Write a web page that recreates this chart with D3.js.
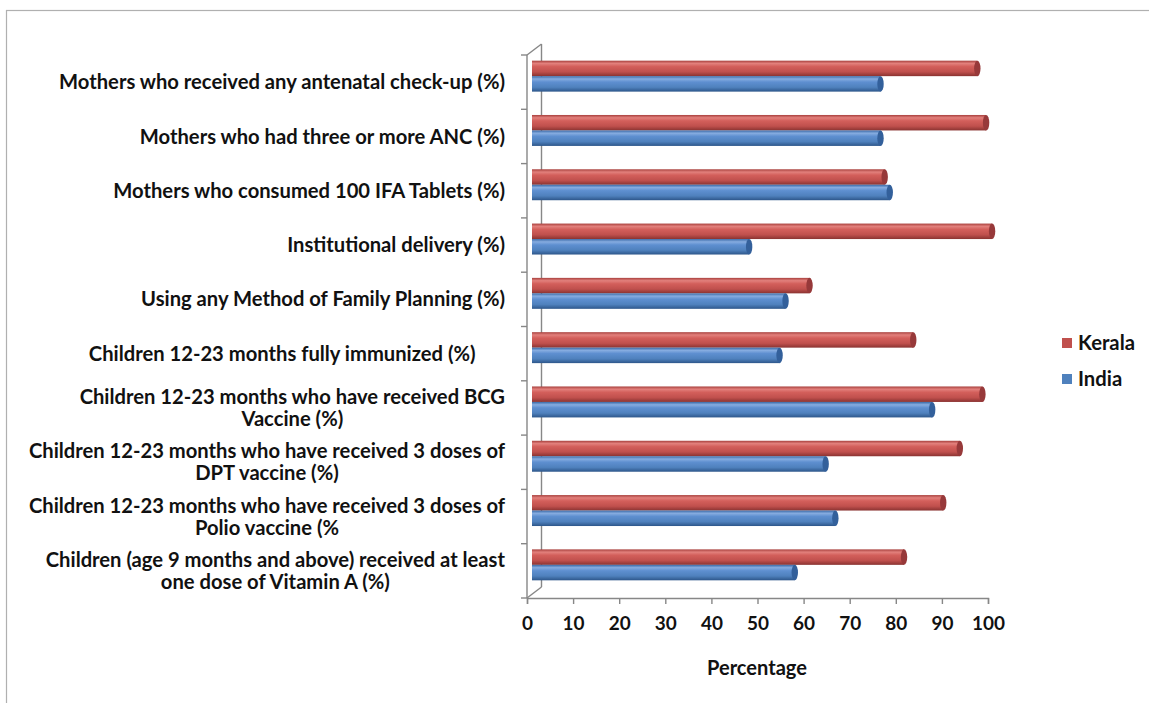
<!DOCTYPE html>
<html><head><meta charset="utf-8">
<script src="https://cdn.jsdelivr.net/npm/d3@7"></script>
<style>
body{margin:0;background:#fff}
text{font-family:Lato,"Open Sans",sans-serif;font-weight:700;fill:#111}
</style>
</head><body>
<svg id="c" width="1149" height="703"></svg>
<script>
// ---- data ----
const categories = [
  ["Mothers who received any antenatal check-up (%)"],
  ["Mothers who had three or more ANC (%)"],
  ["Mothers who consumed 100 IFA Tablets (%)"],
  ["Institutional delivery (%)"],
  ["Using any Method of Family Planning (%)"],
  ["Children 12-23 months fully immunized (%)\u00a0\u00a0\u00a0\u00a0\u00a0\u00a0"],
  ["Children 12-23 months who have received BCG", "Vaccine (%)"],
  ["Children 12-23 months who have received 3 doses of", "DPT vaccine (%)"],
  ["Children 12-23 months who have received 3 doses of", "Polio vaccine (%"],
  ["Children (age 9 months and above) received at least", "one dose of Vitamin A (%)"]
];
const kerala = [96.6, 98.5, 76.5, 99.8, 60.2, 82.7, 97.7, 92.8, 89.2, 80.7];
const india  = [75.6, 75.6, 77.6, 47.1, 55.0, 53.7, 86.8, 63.7, 65.8, 57.0];
const seriesNames = ["Kerala", "India"];
const xTicks = [0, 10, 20, 30, 40, 50, 60, 70, 80, 90, 100];
const axisTitle = "Percentage";

// ---- layout ----
const W = 1149, H = 703;
const svg = d3.select("#c");
const keys = categories.map((c, i) => "c" + i);
svg.append("rect").attr("x", 6.5).attr("y", 10.5).attr("width", W + 20).attr("height", H + 20)
  .attr("fill", "#fff").attr("stroke", "#b0b0b0").attr("stroke-width", 1.2);

function fitSize(str, target, base) {
  const t = svg.append("text").style("font-size", base + "px").text(str);
  const w = t.node().getComputedTextLength();
  t.remove();
  return base * target / w;
}

const x = d3.scaleLinear().domain([0, 100]).range([527, 988]);
const y = d3.scaleBand().domain(keys).range([55, 598]).paddingInner(0.43).paddingOuter(0.215);
const y1 = d3.scaleBand().domain(seriesNames).range([0, y.bandwidth()]);
const depth = {dx: 14.5, dy: -11};
const mid = {dx: 5, dy: -6};
const axisColor = "#878787";

const colors = {
  Kerala: {stops: ["#a8403d", "#e2807c", "#d35f5b", "#c0504d", "#8a3331"], cap: "#97393a"},
  India:  {stops: ["#3a69a6", "#86ace0", "#5e8fd0", "#4f81bd", "#2d568a"], cap: "#33609b"}
};
const defs = svg.append("defs");
seriesNames.forEach(s => {
  const g = defs.append("linearGradient").attr("id", "g" + s).attr("x1", 0).attr("y1", 0).attr("x2", 0).attr("y2", 1);
  [0, 0.18, 0.38, 0.72, 1].forEach((o, i) => g.append("stop").attr("offset", o).attr("stop-color", colors[s].stops[i]));
});

// ---- 3D axis frame ----
const x0 = x(0), yTop = y.range()[0], yBot = y.range()[1];
const frame = svg.append("g").attr("stroke", axisColor).attr("stroke-width", 1.4).attr("fill", "none");
frame.append("line").attr("x1", x0).attr("y1", yTop).attr("x2", x0).attr("y2", yBot);
frame.append("line").attr("x1", x0 + depth.dx).attr("y1", yTop + depth.dy).attr("x2", x0 + depth.dx).attr("y2", yBot + depth.dy);
frame.append("line").attr("x1", x0).attr("y1", yTop).attr("x2", x0 + depth.dx).attr("y2", yTop + depth.dy);
frame.append("line").attr("x1", x0).attr("y1", yBot).attr("x2", x0 + depth.dx).attr("y2", yBot + depth.dy);
const step = y.step();
d3.range(keys.length + 1).forEach(i => {
  const ty = yTop + i * step;
  frame.append("line").attr("x1", x0 - 6).attr("x2", x0).attr("y1", ty).attr("y2", ty);
});

// ---- x axis ----
const tickFs = fitSize("100", 33, 16);
const xAxis = d3.axisBottom(x).tickValues(xTicks).tickSize(6).tickPadding(13).tickFormat(d3.format("d"));
const gx = svg.append("g").attr("transform", `translate(0,${yBot})`).call(xAxis);
gx.select(".domain").attr("stroke", axisColor).attr("stroke-width", 1.4);
gx.selectAll(".tick line").attr("stroke", axisColor).attr("stroke-width", 1.4);
gx.selectAll(".tick text").style("font-family", "Lato,'Open Sans',sans-serif").style("font-weight", 700)
  .style("font-size", tickFs + "px").attr("fill", "#111");
const titleFs = fitSize(axisTitle, 100, 16);
svg.append("text").attr("x", 757).attr("y", 675).attr("text-anchor", "middle").style("font-size", titleFs + "px").text(axisTitle);

// ---- bars ----
const data = keys.map((k, i) => ({k, vals: [{s: "Kerala", v: kerala[i]}, {s: "India", v: india[i]}]}));
const bars = svg.append("g");
data.forEach(d => {
  d.vals.forEach(b => {
    const by = y(d.k) + y1(b.s) + mid.dy;
    const h = y1.bandwidth();
    const bx0 = x(0) + mid.dx, bx1 = x(b.v) + mid.dx;
    bars.append("rect").attr("x", bx0).attr("y", by).attr("width", bx1 - bx0).attr("height", h)
      .attr("fill", `url(#g${b.s})`);
    bars.append("ellipse").attr("cx", bx1).attr("cy", by + h / 2).attr("rx", 3.2).attr("ry", h / 2)
      .attr("fill", colors[b.s].cap);
  });
});

// ---- category labels ----
const labX = 505;
const labG = svg.append("g");
const fs = fitSize(categories[0][0], 446, 16);
categories.forEach((lines, i) => {
  const cyc = yTop + (i + 0.5) * step;
  if (lines.length === 1) {
    labG.append("text").attr("x", labX).attr("y", cyc).attr("dy", "0.35em").attr("text-anchor", "end")
      .style("font-size", fs + "px").style("white-space", "pre").text(lines[0]);
  } else {
    const t1 = labG.append("text").attr("x", labX).attr("y", cyc - 11).attr("dy", "0.35em").attr("text-anchor", "end")
      .style("font-size", fs + "px").text(lines[0]);
    const w = t1.node().getComputedTextLength();
    labG.append("text").attr("x", labX - w / 2).attr("y", cyc + 11).attr("dy", "0.35em").attr("text-anchor", "middle")
      .style("font-size", fs + "px").text(lines[1]);
  }
});

// ---- legend ----
const legFs = fitSize("Kerala", 57, 16);
const legend = svg.append("g");
seriesNames.forEach((s, i) => {
  const ly = 343 + i * 36;
  legend.append("rect").attr("x", 1062).attr("y", ly - 5).attr("width", 10).attr("height", 10).attr("fill", colors[s].stops[3]);
  legend.append("text").attr("x", 1078).attr("y", ly).attr("dy", "0.36em").style("font-size", legFs + "px").text(s);
});
</script>
</body></html>
